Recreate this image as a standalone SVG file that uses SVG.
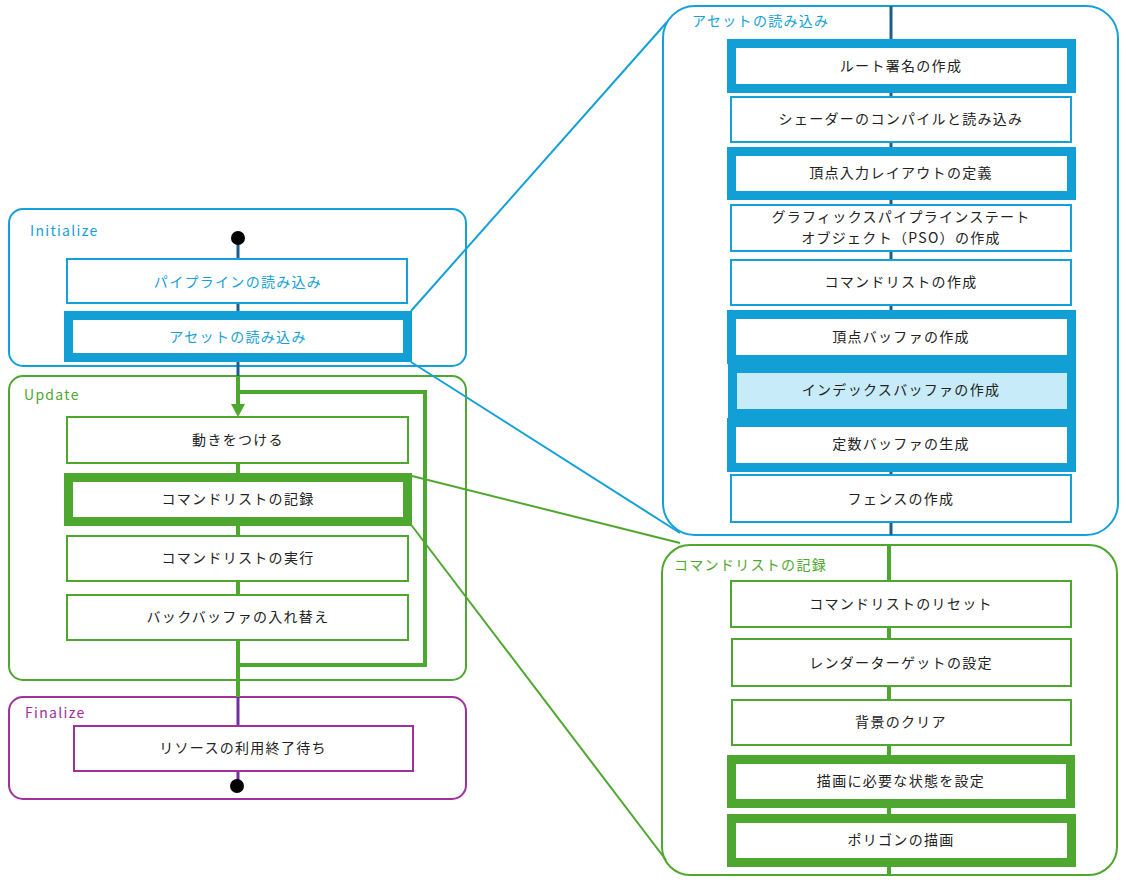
<svg xmlns="http://www.w3.org/2000/svg" width="1126" height="889" viewBox="0 0 1126 889">
<style>
.t{font-family:"Noto Sans CJK JP","Noto Sans",sans-serif;font-size:14px;letter-spacing:1.3px;text-anchor:middle;dominant-baseline:central;fill:#222}
.lbl{font-family:"Noto Sans CJK JP","Noto Sans",sans-serif;font-size:14px;letter-spacing:1.3px}
.cb{fill:#fff;stroke:#14a0d8;stroke-width:2}
.cg{fill:#fff;stroke:#4ea72e;stroke-width:2}
.cp{fill:#fff;stroke:#a0309b;stroke-width:2}
.bb{fill:#fff;stroke:#14a0d8;stroke-width:2}
.bbt{fill:#fff;stroke:#119fd6;stroke-width:9}
.bg{fill:#fff;stroke:#4ea72e;stroke-width:2}
.bgt{fill:#fff;stroke:#4ea72e;stroke-width:9}
.bp{fill:#fff;stroke:#a0309b;stroke-width:2}
</style>
<g id="containers">
<g id="c-initialize"><rect class="cb" x="9" y="209" width="457" height="157" rx="14"/><text class="lbl" x="30" y="236" fill="#14a0d8">Initialize</text></g>
<g id="c-update"><rect class="cg" x="9" y="376" width="457" height="304" rx="14"/><text class="lbl" x="24" y="400" fill="#4ea72e">Update</text></g>
<g id="c-finalize"><rect class="cp" x="9" y="697" width="457" height="102" rx="14"/><text class="lbl" x="25" y="718" fill="#a0309b">Finalize</text></g>
<g id="c-asset"><rect class="cb" x="663" y="6" width="455" height="529" rx="32"/><text class="lbl" x="692" y="26" fill="#14a0d8">アセットの読み込み</text></g>
<g id="c-record"><rect class="cg" x="662" y="545" width="455" height="330" rx="28"/><text class="lbl" x="674" y="570" fill="#4ea72e">コマンドリストの記録</text></g>
</g>
<g id="connectors" fill="none">
<line x1="238" y1="238" x2="238" y2="376" stroke="#1d5f8c" stroke-width="3"/>
<line x1="238" y1="376" x2="238" y2="406" stroke="#4ea72e" stroke-width="4"/>
<polygon points="231,404 245,404 238,417" fill="#4ea72e"/>
<line x1="238" y1="463" x2="238" y2="697" stroke="#4ea72e" stroke-width="4"/>
<path d="M238,392 H425 V665 H238" stroke="#4ea72e" stroke-width="4"/>
<line x1="238" y1="697" x2="238" y2="780" stroke="#7030a0" stroke-width="3"/>
<line x1="891" y1="6" x2="891" y2="535" stroke="#1d5f8c" stroke-width="3"/>
<line x1="889" y1="545" x2="889" y2="875" stroke="#4ea72e" stroke-width="4"/>
<line x1="411" y1="311" x2="667" y2="22" stroke="#14a0d8" stroke-width="2"/>
<line x1="411" y1="362" x2="680" y2="533" stroke="#14a0d8" stroke-width="2"/>
<line x1="412" y1="476" x2="680" y2="543" stroke="#4ea72e" stroke-width="2"/>
<line x1="409" y1="522" x2="666" y2="860" stroke="#4ea72e" stroke-width="2"/>
</g>
<g id="start"><circle cx="238" cy="238" r="7" fill="#000"/></g>
<g id="end"><circle cx="237" cy="786" r="7" fill="#000"/></g>
<g id="n-pipeline"><rect class="bb" x="67" y="259" width="340" height="44"/><text class="t" x="238" y="281" fill="#14a0d8" style="fill:#14a0d8">パイプラインの読み込み</text></g>
<g id="n-asset"><rect class="bbt" x="68.5" y="315.5" width="339" height="42"/><text class="t" x="238" y="336" style="fill:#14a0d8">アセットの読み込み</text></g>
<g id="n-move"><rect class="bg" x="67" y="417" width="341" height="46"/><text class="t" x="238" y="439">動きをつける</text></g>
<g id="n-record"><rect class="bgt" x="68.5" y="477.5" width="339" height="44"/><text class="t" x="238" y="498">コマンドリストの記録</text></g>
<g id="n-exec"><rect class="bg" x="67" y="536" width="341" height="45"/><text class="t" x="238" y="557">コマンドリストの実行</text></g>
<g id="n-swap"><rect class="bg" x="67" y="595" width="341" height="45"/><text class="t" x="238" y="616">バックバッファの入れ替え</text></g>
<g id="n-wait"><rect class="bp" x="74" y="726" width="339" height="45"/><text class="t" x="243" y="747">リソースの利用終了待ち</text></g>
<g id="n-rootsig"><rect class="bbt" x="731.5" y="43.5" width="340" height="45"/><text class="t" x="901" y="65">ルート署名の作成</text></g>
<g id="n-shader"><rect class="bb" x="731" y="97" width="340" height="45"/><text class="t" x="901" y="118">シェーダーのコンパイルと読み込み</text></g>
<g id="n-layout"><rect class="bbt" x="731.5" y="151.5" width="340" height="44"/><text class="t" x="901" y="172">頂点入力レイアウトの定義</text></g>
<g id="n-pso"><rect class="bb" x="731" y="205" width="340" height="46"/><text class="t" x="901" y="216">グラフィックスパイプラインステート</text><text class="t" x="901" y="237">オブジェクト（PSO）の作成</text></g>
<g id="n-cmdlist"><rect class="bb" x="731" y="260" width="340" height="45"/><text class="t" x="901" y="281">コマンドリストの作成</text></g>
<g id="n-vb"><rect class="bbt" x="731.5" y="314.5" width="340" height="45"/><text class="t" x="901" y="336">頂点バッファの作成</text></g>
<g id="n-ib"><rect class="bbt" x="732.5" y="368.5" width="339" height="45" style="fill:#c8ebf9"/><text class="t" x="901" y="389">インデックスバッファの作成</text></g>
<g id="n-cb"><rect class="bbt" x="731.5" y="422.5" width="340" height="45"/><text class="t" x="901" y="443">定数バッファの生成</text></g>
<g id="n-fence"><rect class="bb" x="731" y="475" width="340" height="47"/><text class="t" x="901" y="498">フェンスの作成</text></g>
<g id="n-reset"><rect class="bg" x="731" y="581" width="340" height="46"/><text class="t" x="901" y="603">コマンドリストのリセット</text></g>
<g id="n-rt"><rect class="bg" x="732" y="639" width="339" height="47"/><text class="t" x="901" y="662">レンダーターゲットの設定</text></g>
<g id="n-clear"><rect class="bg" x="732" y="700" width="339" height="45"/><text class="t" x="901" y="721">背景のクリア</text></g>
<g id="n-state"><rect class="bgt" x="731.5" y="759.5" width="339" height="44"/><text class="t" x="901" y="780">描画に必要な状態を設定</text></g>
<g id="n-draw"><rect class="bgt" x="731.5" y="818.5" width="340" height="44"/><text class="t" x="901" y="839">ポリゴンの描画</text></g>
</svg>
